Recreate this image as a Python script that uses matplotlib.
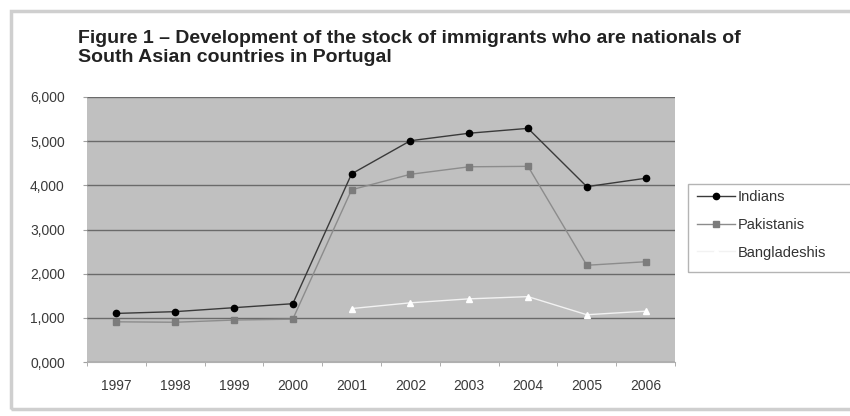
import numpy as np
import matplotlib.pyplot as plt
from matplotlib.patches import Rectangle

years = ['1997', '1998', '1999', '2000', '2001', '2002', '2003', '2004', '2005', '2006']
indians = [1100, 1140, 1230, 1320, 4260, 5010, 5180, 5290, 3970, 4160]
pakistanis = [910, 900, 950, 970, 3900, 4250, 4420, 4430, 2190, 2270]
bangladeshis = [np.nan, np.nan, np.nan, np.nan, 1210, 1340, 1430, 1480, 1070, 1150]

plt.rcParams['font.family'] = ['Liberation Sans', 'DejaVu Sans']

W, H = 850, 416
fig = plt.figure(figsize=(W / 100, H / 100), dpi=100)
# light grey frame, runs off the right edge like in the scan
fig.patches.append(Rectangle((11 / W, 1 - 409 / H), 860 / W, 398 / H, transform=fig.transFigure,
                             fill=False, edgecolor='#cfcfcf', linewidth=2.5))
# legend box, also cut by the right edge
fig.patches.append(Rectangle((688 / W, 1 - 272 / H), 170 / W, 88 / H, transform=fig.transFigure,
                             fill=False, edgecolor='#b4b4b4', linewidth=1.0))

ax = fig.add_axes([87 / W, 1 - 362 / H, 588 / W, 265 / H])
ax.set_facecolor('#c0c0c0')

x = np.arange(len(years))
ax.plot(x, indians, color='#3a3a3a', lw=1.0, marker='o', ms=4.5, mfc='black', mec='black', label='Indians')
ax.plot(x, pakistanis, color='#8c8c8c', lw=1.0, marker='s', ms=4.5, mfc='#7c7c7c', mec='#7c7c7c', label='Pakistanis')
ax.plot(x, bangladeshis, color='#f2f2f2', lw=1.0, marker='^', ms=4.5, mfc='white', mec='white', label='Bangladeshis')

ax.set_xlim(-0.5, len(years) - 0.5)
ax.set_ylim(0, 6000)
ax.set_yticks(np.arange(0, 6001, 1000))
ax.set_yticklabels(['%d,000' % (v // 1000) for v in range(0, 6001, 1000)])
ax.set_xticks(x)
ax.set_xticklabels(years)
ax.set_xticks(np.arange(-0.5, len(years), 1), minor=True)
ax.tick_params(axis='x', which='major', length=0, pad=12, labelsize=10, labelcolor='#3a3a3a')
ax.tick_params(axis='x', which='minor', length=3, color='#a0a0a0')
ax.tick_params(axis='y', length=3, color='#a0a0a0', labelsize=10, labelcolor='#3a3a3a', pad=13)
ax.yaxis.grid(True, color='#6a6a6a', lw=1.0)
ax.set_axisbelow(True)
for s in ax.spines.values():
    s.set_visible(False)
ax.spines['bottom'].set_visible(True)
ax.spines['bottom'].set_color('#b0b0b0')

fig.text(78 / W, 1 - 48 / H,
         'Figure 1 \u2013 Development of the stock of immigrants who are nationals of\nSouth Asian countries in Portugal',
         fontsize=14, fontweight='bold', va='center', ha='left', color='#222222', linespacing=1.08)

leg = ax.legend(loc='upper left', bbox_to_anchor=(691 / W, 1 - 184 / H), bbox_transform=fig.transFigure,
                frameon=False, fontsize=10.5, handlelength=2.6, labelspacing=0.95,
                borderpad=0.4, handletextpad=0.2, borderaxespad=0)
for t in leg.get_texts():
    t.set_color('#333333')

fig.savefig('out.png', dpi=100)
